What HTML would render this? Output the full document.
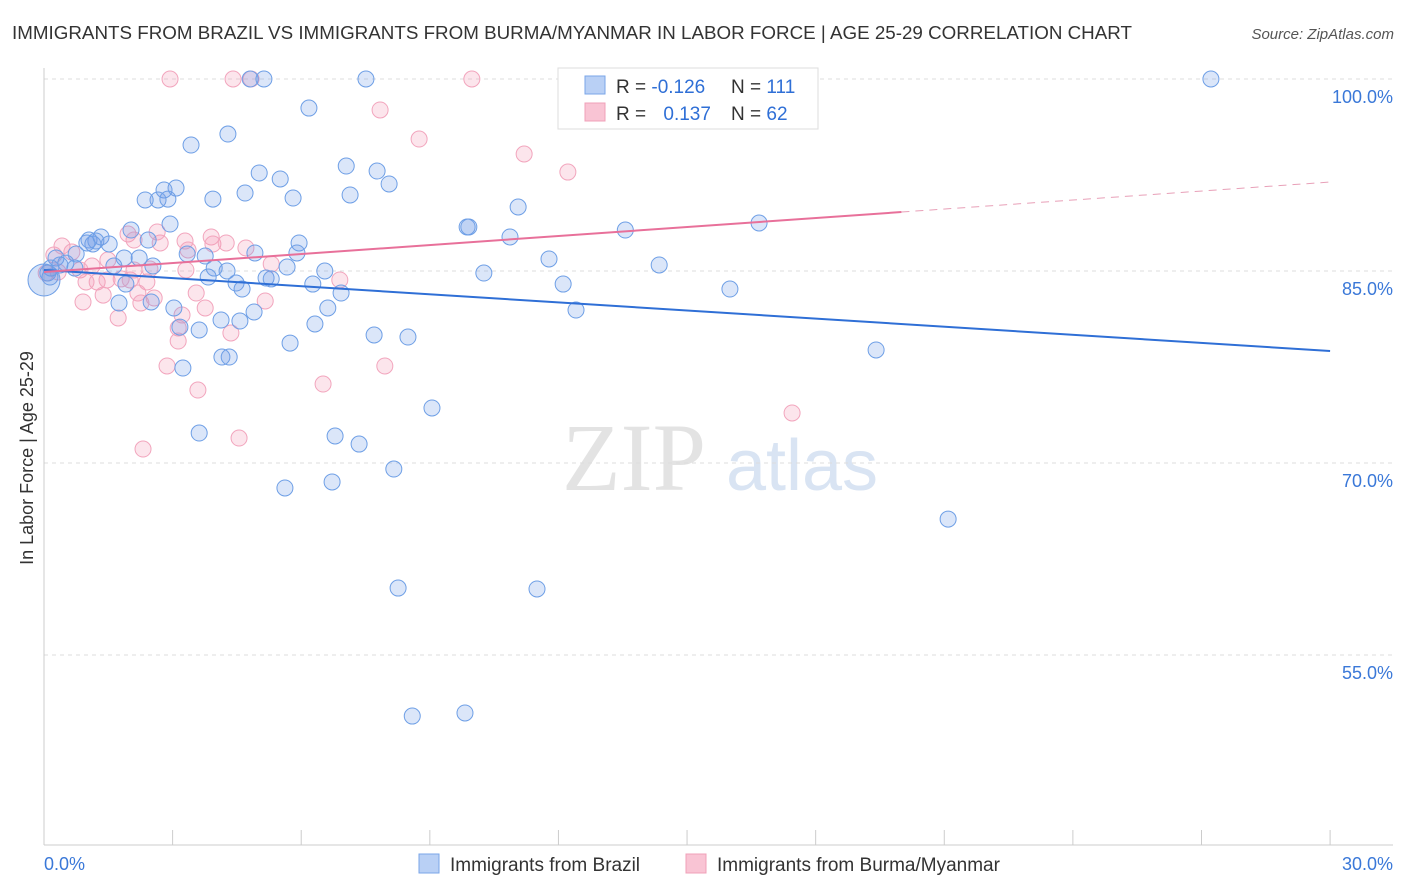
<!DOCTYPE html>
<html><head><meta charset="utf-8">
<style>
body{margin:0;background:#fff;font-family:"Liberation Sans",sans-serif;}
svg{display:block}
</style></head>
<body>
<svg id="chart" width="1406" height="892" xmlns="http://www.w3.org/2000/svg">
<text x="12" y="39" font-size="18" fill="#333" textLength="1120" lengthAdjust="spacingAndGlyphs">IMMIGRANTS FROM BRAZIL VS IMMIGRANTS FROM BURMA/MYANMAR IN LABOR FORCE | AGE 25-29 CORRELATION CHART</text>
<text x="1394" y="39" font-size="15" fill="#555" font-style="italic" text-anchor="end">Source: ZipAtlas.com</text>
<text x="33" y="458" font-size="18" fill="#333" text-anchor="middle" transform="rotate(-90 33 458)">In Labor Force | Age 25-29</text>
<g><text x="634" y="490" font-size="96" fill="#e3e3e3" font-family="Liberation Serif, serif" text-anchor="middle">ZIP</text><text x="802" y="490" font-size="72" fill="#d9e4f3" text-anchor="middle">atlas</text></g>
<g id="grid"></g><g id="axes"></g><g id="marks"></g>
<g>
<rect x="558" y="68" width="260" height="61" fill="#fff" stroke="#ddd"/>
<rect x="585" y="76" width="20" height="18" fill="#b9d0f5" stroke="#7aa6e8"/>
<rect x="585" y="103" width="20" height="18" fill="#f9c4d4" stroke="#f0a0b8"/>
<text x="616" y="93" font-size="19" fill="#333">R = <tspan fill="#2f6fd6">-0.126</tspan></text>
<text x="731" y="93" font-size="19" fill="#333">N = <tspan fill="#2f6fd6">111</tspan></text>
<text x="616" y="120" font-size="19" fill="#333">R = <tspan fill="#2f6fd6" dx="12">0.137</tspan></text>
<text x="731" y="120" font-size="19" fill="#333">N = <tspan fill="#2f6fd6">62</tspan></text>
</g>
<g>
<rect x="419" y="854" width="20" height="19" fill="#b9d0f5" stroke="#7aa6e8"/>
<text x="450" y="871" font-size="19" fill="#333">Immigrants from Brazil</text>
<rect x="686" y="854" width="20" height="19" fill="#f9c4d4" stroke="#f0a0b8"/>
<text x="717" y="871" font-size="19" fill="#333">Immigrants from Burma/Myanmar</text>
</g>
</svg>
<script>
const yTicks=[100,85,70,55];
const yTickLabels=["100.0%","85.0%","70.0%","55.0%"];
const xTickLabels=["0.0%","30.0%"];
const blueX=[27.22,4.81,5.13,7.51,6.18,4.29,3.43,7.05,7.77,5.02,5.51,8.05,3.08,2.80,4.69,3.94,2.66,7.14,5.81,2.89,2.36,11.06,2.94,9.87,9.91,13.56,16.68,2.03,10.87,5.95,2.43,1.05,1.33,1.21,1.14,1.00,1.52,4.92,5.90,3.34,3.76,11.78,14.35,1.87,2.22,2.54,0.75,0.28,0.51,0.37,0.16,0.09,0.14,0.72,1.63,3.97,4.27,5.67,6.55,10.26,5.18,5.30,3.83,4.48,4.62,6.27,6.93,12.11,16.0,1.91,2.50,1.75,3.03,6.62,4.90,12.41,4.13,4.57,3.17,3.62,6.32,7.70,8.49,5.74,19.41,4.15,4.32,3.24,9.05,3.62,6.79,7.35,8.16,5.62,6.72,21.09,8.26,11.50,8.59,9.82];
const blueY=[100,100,100,100,97.73,95.70,94.84,93.20,92.81,92.66,92.19,91.80,91.48,91.33,91.09,90.62,90.55,90.94,90.70,90.62,90.55,90.0,88.67,88.44,88.44,88.20,88.75,88.20,87.66,87.19,87.42,87.42,87.66,87.34,87.11,87.19,87.11,86.41,86.41,86.33,86.17,85.94,85.47,86.02,86.02,85.39,86.33,86.02,85.62,85.47,85.23,84.84,84.53,85.23,85.39,85.23,85.0,85.31,85.0,84.84,84.45,84.38,84.53,84.06,83.59,83.98,83.28,83.98,83.59,83.98,82.58,82.5,82.11,82.11,81.80,81.95,81.17,81.09,80.62,80.39,80.86,80.0,79.84,79.37,78.83,78.28,78.28,77.42,74.30,72.34,72.11,71.48,69.53,68.05,68.52,65.62,60.23,60.16,50.23,50.47];
const pinkX=[2.94,4.41,4.83,9.98,7.84,8.75,11.20,12.22,0.42,1.96,2.10,2.71,3.29,3.90,3.94,4.25,4.71,3.36,5.30,6.90,2.64,1.12,0.84,0.33,0.05,1.24,1.47,1.80,2.01,2.40,0.98,1.38,0.91,2.19,2.57,3.55,5.16,2.26,3.76,3.22,3.13,1.73,4.36,3.13,2.87,7.95,6.51,3.59,4.55,2.31,17.45,0.23,0.65,1.49,2.10,3.31,2.47];
const pinkY=[100,100,100,100,97.58,95.31,94.14,92.73,86.95,87.89,87.42,87.19,87.34,87.66,87.11,87.19,86.80,86.64,85.55,84.30,88.05,85.39,85.08,84.92,84.84,84.14,84.30,84.38,84.30,84.14,84.14,83.12,82.58,83.28,82.89,83.28,82.66,82.5,82.11,81.56,80.55,81.33,80.16,79.53,77.58,77.58,76.17,75.70,71.95,71.09,73.91,86.25,86.48,85.86,85.08,85.08,85.16];
const blueTrend=[85.08,78.75];
const pinkTrend=[84.92,91.95];
const pinkSolidEnd=20;

const X=v=>44+v*42.87, Y=v=>79+(100-v)*12.8;
const NS="http://www.w3.org/2000/svg";
function mk(tag,attrs,parent){const e=document.createElementNS(NS,tag);for(const k in attrs)e.setAttribute(k,attrs[k]);parent.appendChild(e);return e;}
const grid=document.getElementById('grid'),axes=document.getElementById('axes'),marks=document.getElementById('marks');
yTicks.forEach((t,i)=>{
  const l=mk('line',{x1:44,x2:1393,y1:Y(t),y2:Y(t),stroke:'#ddd','stroke-dasharray':'4 4'},grid);
  
  
  const tx=mk('text',{x:1393,y:Y(t)+24,'font-size':18,fill:'#3a78d8','text-anchor':'end'},axes);
  tx.textContent=yTickLabels[i];
  
  
});
let a=mk('line',{x1:44,x2:44,y1:68,y2:845,stroke:'#ccc'},axes);


a=mk('line',{x1:44,x2:1393,y1:845,y2:845,stroke:'#ccc'},axes);


for(let i=0;i<=10;i++){const t=mk('line',{x1:X(i*3),x2:X(i*3),y1:830,y2:845,stroke:'#ccc'},axes);
  
  }
[[0,'start',44],[1,'end',1393]].forEach(([i,anc,x])=>{const t=mk('text',{x:x,y:870,'font-size':18,fill:'#3a78d8','text-anchor':anc},axes);t.textContent=xTickLabels[i];
  
  });
function dots(xs,ys,fill,stroke,name){xs.forEach((x,i)=>{const c=mk('circle',{cx:X(x),cy:Y(ys[i]),r:8,fill:fill,stroke:stroke,'stroke-width':1},marks);
  
  });}
dots(pinkX,pinkY,'rgba(244,150,180,0.25)','#f2a5bd','burma-point');
dots(blueX,blueY,'rgba(110,155,230,0.25)','#6e9fe6','brazil-point');
let big=mk('circle',{cx:X(0),cy:Y(84.3),r:16,fill:'rgba(110,155,230,0.3)',stroke:'#6e9fe6'},marks);


const at=(tr,x)=>tr[0]+(tr[1]-tr[0])*x/30;
let tl=mk('line',{x1:X(0),y1:Y(blueTrend[0]),x2:X(30),y2:Y(blueTrend[1]),stroke:'#2f6fd6','stroke-width':2},marks);


tl=mk('line',{x1:X(0),y1:Y(pinkTrend[0]),x2:X(pinkSolidEnd),y2:Y(at(pinkTrend,pinkSolidEnd)),stroke:'#e8709a','stroke-width':2},marks);


tl=mk('line',{x1:X(pinkSolidEnd),y1:Y(at(pinkTrend,pinkSolidEnd)),x2:X(30),y2:Y(pinkTrend[1]),stroke:'#e8a0b8','stroke-width':1,'stroke-dasharray':'8 6'},marks);


</script>
</body></html>
